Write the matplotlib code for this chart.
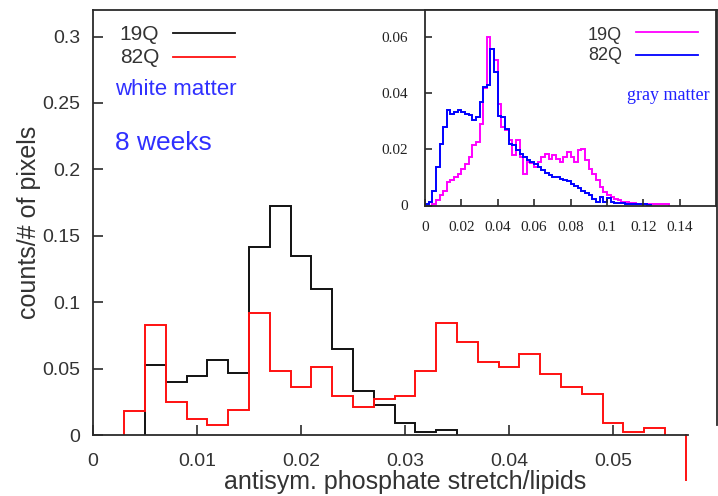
import numpy as np
import matplotlib
matplotlib.use("Agg")
import matplotlib.pyplot as plt

# ---- white matter histograms (bin width 0.002) ----
wm_19q_start = 0.005
wm_19q = [0.053, 0.040, 0.0445, 0.0565, 0.047, 0.1413, 0.1723, 0.1345, 0.110,
          0.0646, 0.0332, 0.0227, 0.0092, 0.0022, 0.0039]
wm_82q_start = 0.003
wm_82q = [0.0184, 0.0829, 0.0247, 0.0119, 0.0074, 0.0187, 0.0921, 0.0483, 0.036,
          0.0513, 0.0295, 0.0214, 0.027, 0.0295, 0.0483, 0.0841, 0.0703, 0.055,
          0.0513, 0.0608, 0.0463, 0.0362, 0.0305, 0.0094, 0.0022, 0.0049]
wm_bin = 0.002

# ---- gray matter histograms (bin width 0.002, starting at 0) ----
gm_bin = 0.002
gm_19q = [0.0, 0.0, 0.0006, 0.0018, 0.0036, 0.0053, 0.0083, 0.0091, 0.0101, 0.0113,
          0.0131, 0.0148, 0.0172, 0.0214, 0.0226, 0.0291, 0.0416, 0.060, 0.0558, 0.0517,
          0.0362, 0.0279, 0.027, 0.0232, 0.0178, 0.0234, 0.0172, 0.0113, 0.0154, 0.0151,
          0.0137, 0.0154, 0.0172, 0.0184, 0.0166, 0.0178, 0.0166, 0.0154, 0.0172, 0.019,
          0.0172, 0.0154, 0.0196, 0.0202, 0.016, 0.0131, 0.0113, 0.0089, 0.0065, 0.0048,
          0.0036, 0.003, 0.0024, 0.0018, 0.0012, 0.0012, 0.0008, 0.0008, 0.0006, 0.0006,
          0.0005, 0.0004, 0.0004, 0.0004, 0.0004, 0.0004, 0.0004]
gm_82q = [0.0006, 0.0012, 0.0053, 0.0137, 0.022, 0.028, 0.0339, 0.0327, 0.0333, 0.0339,
          0.0333, 0.0324, 0.032, 0.0303, 0.0315, 0.0368, 0.0422, 0.0428, 0.0555, 0.0475,
          0.0317, 0.0315, 0.0273, 0.022, 0.0214, 0.0196, 0.0184, 0.0172, 0.016, 0.0154,
          0.0146, 0.0137, 0.0125, 0.0115, 0.0107, 0.0103, 0.0101, 0.0095, 0.0091, 0.0087,
          0.0077, 0.0071, 0.0063, 0.0053, 0.0044, 0.0036, 0.0024, 0.0012, 0.003, 0.0012,
          0.0027, 0.0012, 0.0008, 0.0008, 0.0008, 0.0006, 0.0006, 0.0006, 0.0004, 0.0004,
          0.0004, 0.0002]

main_xticks = [0, 0.01, 0.02, 0.03, 0.04, 0.05]
main_xticklabels = ["0", "0.01", "0.02", "0.03", "0.04", "0.05"]
main_yticks = [0, 0.05, 0.1, 0.15, 0.2, 0.25, 0.3]
main_yticklabels = ["0", "0.05", "0.1", "0.15", "0.2", "0.25", "0.3"]
inset_xticks = [0, 0.02, 0.04, 0.06, 0.08, 0.1, 0.12, 0.14]
inset_xticklabels = ["0", "0.02", "0.04", "0.06", "0.08", "0.1", "0.12", "0.14"]
inset_yticks = [0, 0.02, 0.04, 0.06]
inset_yticklabels = ["0", "0.02", "0.04", "0.06"]

SANS = ["Liberation Sans", "DejaVu Sans"]
SERIF = ["Liberation Serif", "DejaVu Serif"]
FRAME = "#2b2b2b"
TXT = "#333333"

fig = plt.figure(figsize=(7.18, 4.96), dpi=100)

def edges(start, n, w):
    return start + w * np.arange(n + 1)

# ---------------- main axes ----------------
ax = fig.add_axes([93 / 718, 61 / 496, 624 / 718, 425 / 496])
ax.set_xlim(0, 0.06)
ax.set_ylim(0, 0.32)

ax.stairs(wm_19q, edges(wm_19q_start, len(wm_19q), wm_bin), baseline=0,
          color="#111111", lw=1.4)
ax.stairs(wm_82q, edges(wm_82q_start, len(wm_82q), wm_bin), baseline=0,
          color="#ff1010", lw=1.4)
ax.plot([0.057, 0.057], [0, -0.034], color="#ff1010", lw=1.4, clip_on=False)

for s in ax.spines.values():
    s.set_color(FRAME)
    s.set_linewidth(1.3)
ax.spines["bottom"].set_bounds(0, 0.0572)
ax.spines["right"].set_bounds(0.0075, 0.32)

ax.set_xticks(main_xticks, main_xticklabels)
ax.set_yticks(main_yticks, main_yticklabels)
ax.tick_params(direction="in", length=7, width=1.2, color=FRAME,
               top=False, right=False, labelsize=14, labelcolor=TXT)
ax.tick_params(axis="y", pad=9)
ax.tick_params(axis="x", pad=13)
for lab in ax.get_xticklabels() + ax.get_yticklabels():
    lab.set_family(SANS)

ax.set_xlabel("antisym. phosphate stretch/lipids", fontsize=18, family=SANS,
              color=TXT, labelpad=0)
ax.set_ylabel("counts/# of pixels", fontsize=18, family=SANS, color=TXT,
              labelpad=1)

# key for the main panel
ax.text(0.1058, 0.9435, "19Q", ha="right", va="center", fontsize=15,
        family=SANS, color=TXT, transform=ax.transAxes)
ax.plot([0.128, 0.2276], [0.946, 0.946], color="#111111", lw=1.3,
        transform=ax.transAxes)
ax.text(0.1058, 0.889, "82Q", ha="right", va="center", fontsize=15,
        family=SANS, color=TXT, transform=ax.transAxes)
ax.plot([0.128, 0.2276], [0.889, 0.889], color="#ff1010", lw=1.3,
        transform=ax.transAxes)
ax.text(0.0353, 0.8118, "white matter", ha="left", va="center", fontsize=16,
        family=SANS, color="#3030ff", transform=ax.transAxes)
ax.text(0.0353, 0.687, "8 weeks", ha="left", va="center", fontsize=19,
        family=SANS, color="#3030ff", transform=ax.transAxes)

# ---------------- inset ----------------
ins = fig.add_axes([425 / 718, 290.5 / 496, 291 / 718, 195.5 / 496])
ins.set_xlim(0, 0.16)
ins.set_ylim(0, 0.0695)
ins.stairs(gm_19q, edges(0, len(gm_19q), gm_bin), baseline=0,
           color="#ff00ff", lw=1.4)
ins.stairs(gm_82q, edges(0, len(gm_82q), gm_bin), baseline=0,
           color="#0000ff", lw=1.4)

for s in ins.spines.values():
    s.set_color(FRAME)
    s.set_linewidth(1.3)
ins.set_xticks(inset_xticks, inset_xticklabels)
ins.set_yticks(inset_yticks, inset_yticklabels)
ins.tick_params(direction="in", length=5, width=1.2, color=FRAME,
                top=False, right=False, labelsize=11, labelcolor="#222222")
ins.tick_params(axis="x", pad=11)
ins.tick_params(axis="y", pad=12)
for lab in ins.get_xticklabels() + ins.get_yticklabels():
    lab.set_family(SERIF)

ins.text(0.677, 0.872, "19Q", ha="right", va="center", fontsize=13,
         family=SANS, color=TXT, transform=ins.transAxes)
ins.plot([0.725, 0.938], [0.887, 0.887], color="#ff00ff", lw=1.3,
         transform=ins.transAxes)
ins.text(0.677, 0.765, "82Q", ha="right", va="center", fontsize=13,
         family=SANS, color=TXT, transform=ins.transAxes)
ins.plot([0.725, 0.938], [0.77, 0.77], color="#0000ff", lw=1.3,
         transform=ins.transAxes)
ins.text(0.694, 0.565, "gray matter", ha="left", va="center", fontsize=13,
         family=SERIF, color="#2020ff", transform=ins.transAxes)

fig.savefig("out.png", dpi=100)
